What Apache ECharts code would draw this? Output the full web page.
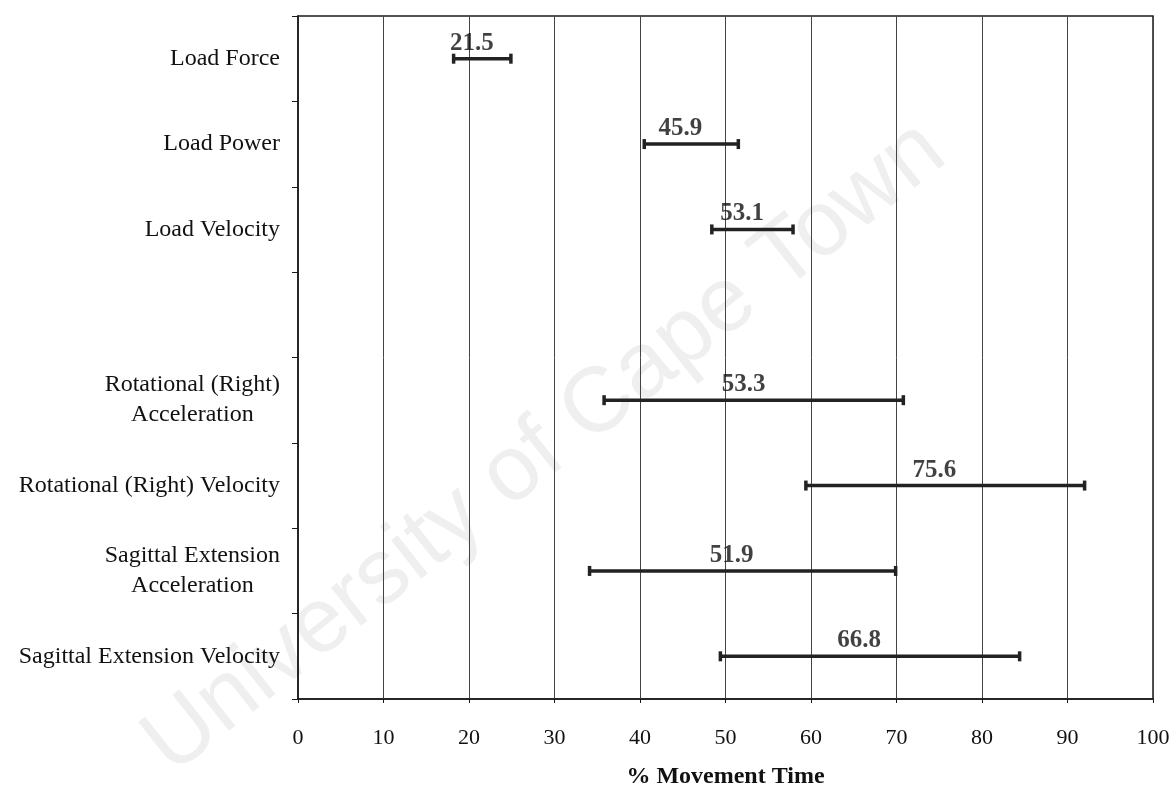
<!DOCTYPE html>
<html>
<head>
<meta charset="utf-8">
<script src="https://cdn.jsdelivr.net/npm/echarts@6/dist/echarts.min.js"></script>
<style>
html,body{margin:0;padding:0;background:#fff;}
#chart{width:1172px;height:787px;}
</style>
</head>
<body>
<div id="chart"></div>
<script>
const categories = ['Load Force', 'Load Power', 'Load Velocity', '', 'Rotational (Right)\nAcceleration', 'Rotational (Right) Velocity', 'Sagittal Extension\nAcceleration', 'Sagittal Extension Velocity'];
const means = [21.5, 45.9, 53.1, null, 53.3, 75.6, 51.9, 66.8];
const lows  = [18.2, 40.5, 48.4, null, 35.8, 59.4, 34.1, 49.4];
const highs = [24.9, 51.5, 57.9, null, 70.8, 92.0, 69.9, 84.4];
const xTicks = [0, 100, 10];
const axisTitle = '% Movement Time';
const watermark = 'University of Cape Town';

const serif = '"Liberation Serif", "Times New Roman", serif';
const errData = [], labelData = [];
categories.forEach((c, i) => {
  if (means[i] == null) return;
  errData.push([i, lows[i], highs[i]]);
  labelData.push([means[i], i]);
});

const chart = echarts.init(document.getElementById('chart'), null, {renderer: 'canvas'});
chart.setOption({
  animation: false,
  backgroundColor: '#fff',
  graphic: {
    elements: [{
      type: 'text', x: 545, y: 448, rotation: 0.67, z: -10, silent: true,
      style: {text: watermark, fill: '#efefef', font: '92px "Liberation Sans", Arial, sans-serif',
              textAlign: 'center', textVerticalAlign: 'middle'}
    }]
  },
  grid: {left: 298, right: 19, top: 16, bottom: 88, containLabel: false, outerBoundsMode: 'none',
         show: true, borderColor: '#1a1a1a', borderWidth: 1.5},
  xAxis: {
    type: 'value', min: xTicks[0], max: xTicks[1], interval: xTicks[2],
    axisLine: {show: true, lineStyle: {color: '#1a1a1a', width: 1.5}},
    axisTick: {show: true, length: 4, lineStyle: {color: '#1a1a1a'}},
    axisLabel: {fontSize: 22, color: '#111', fontFamily: serif, margin: 28},
    splitLine: {show: true, lineStyle: {color: '#444', width: 1}},
    name: axisTitle, nameLocation: 'middle', nameGap: 66,
    nameTextStyle: {fontWeight: 'bold', fontSize: 24, color: '#111', fontFamily: serif}
  },
  yAxis: {
    type: 'category', data: categories, inverse: true,
    axisLine: {show: true, lineStyle: {color: '#1a1a1a', width: 1.5}},
    axisTick: {show: true, length: 6, lineStyle: {color: '#1a1a1a'}},
    splitLine: {show: false},
    axisLabel: {
      margin: 18, color: '#111', fontFamily: serif, fontSize: 24,
      formatter: v => v ? '{c|' + v.split('\n').join('}\n{c|') + '}' : '',
      rich: {c: {align: 'center', fontSize: 24, lineHeight: 30, fontFamily: serif, color: '#111'}}
    }
  },
  series: [{
    type: 'custom',
    data: errData,
    encode: {x: [1, 2], y: 0},
    z: 5,
    renderItem: function (params, api) {
      const lo = api.coord([api.value(1), api.value(0)]);
      const hi = api.coord([api.value(2), api.value(0)]);
      const st = {stroke: '#222', lineWidth: 3.5};
      return {type: 'group', children: [
        {type: 'line', shape: {x1: lo[0], y1: lo[1], x2: hi[0], y2: hi[1]}, style: st},
        {type: 'line', shape: {x1: lo[0], y1: lo[1] - 5, x2: lo[0], y2: lo[1] + 5}, style: st},
        {type: 'line', shape: {x1: hi[0], y1: hi[1] - 5, x2: hi[0], y2: hi[1] + 5}, style: st}
      ]};
    }
  }, {
    type: 'scatter',
    data: labelData,
    symbolSize: 0,
    z: 6,
    label: {
      show: true, position: 'top', distance: 3, offset: [-10, 0],
      formatter: p => p.value[0].toFixed(1),
      fontFamily: serif, fontWeight: 'bold', fontSize: 25, color: '#111'
    }
  }]
});
</script>
</body>
</html>
